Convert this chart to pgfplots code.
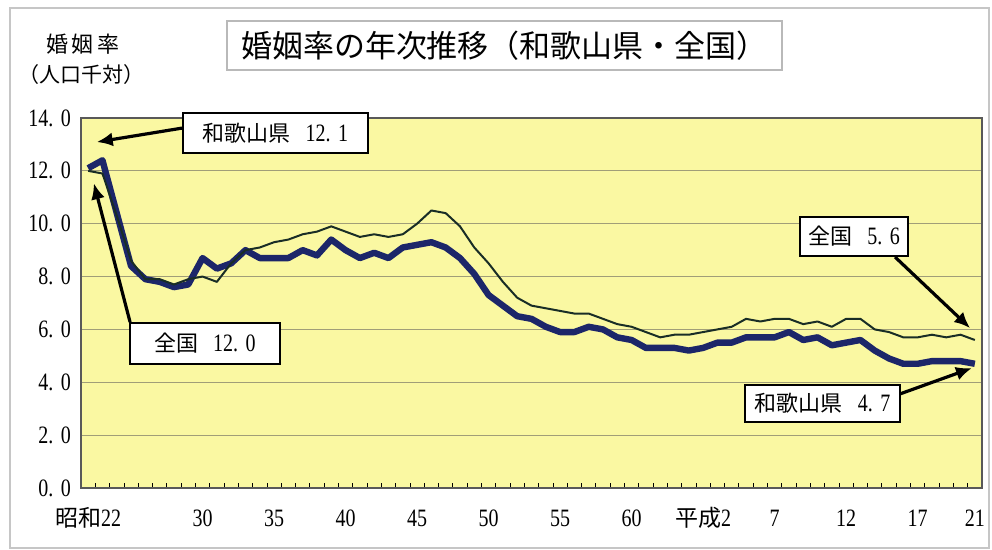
\documentclass[border=0pt]{standalone}
\usepackage{pgfplots}
\pgfplotsset{compat=1.18}
\usepackage{pgfplotstable}
\usepackage{fontspec}
\setmainfont[FakeStretch=0.8]{Liberation Serif}
\newfontfamily\jp{Noto Sans CJK JP}
\usetikzlibrary{arrows.meta}
\definecolor{plotyellow}{RGB}{250,248,162}
\definecolor{gridc}{RGB}{160,158,120}
\definecolor{wakac}{RGB}{28,38,105}
\definecolor{zenc}{RGB}{25,45,38}
\newcommand\dd[2]{#1.\hspace{0.3em}#2}

\pgfplotstableread{
year val
1947 12.0
1948 11.9
1949 10.3
1950 8.6
1951 7.9
1952 7.9
1953 7.7
1954 7.9
1955 8.0
1956 7.8
1957 8.5
1958 9.0
1959 9.1
1960 9.3
1961 9.4
1962 9.6
1963 9.7
1964 9.9
1965 9.7
1966 9.5
1967 9.6
1968 9.5
1969 9.6
1970 10.0
1971 10.5
1972 10.4
1973 9.9
1974 9.1
1975 8.5
1976 7.8
1977 7.2
1978 6.9
1979 6.8
1980 6.7
1981 6.6
1982 6.6
1983 6.4
1984 6.2
1985 6.1
1986 5.9
1987 5.7
1988 5.8
1989 5.8
1990 5.9
1991 6.0
1992 6.1
1993 6.4
1994 6.3
1995 6.4
1996 6.4
1997 6.2
1998 6.3
1999 6.1
2000 6.4
2001 6.4
2002 6.0
2003 5.9
2004 5.7
2005 5.7
2006 5.8
2007 5.7
2008 5.8
2009 5.6
}\zenkoku

\pgfplotstableread{
year val
1947 12.1
1948 12.4
1949 10.4
1950 8.4
1951 7.9
1952 7.8
1953 7.6
1954 7.7
1955 8.7
1956 8.3
1957 8.5
1958 9.0
1959 8.7
1960 8.7
1961 8.7
1962 9.0
1963 8.8
1964 9.4
1965 9.0
1966 8.7
1967 8.9
1968 8.7
1969 9.1
1970 9.2
1971 9.3
1972 9.1
1973 8.7
1974 8.1
1975 7.3
1976 6.9
1977 6.5
1978 6.4
1979 6.1
1980 5.9
1981 5.9
1982 6.1
1983 6.0
1984 5.7
1985 5.6
1986 5.3
1987 5.3
1988 5.3
1989 5.2
1990 5.3
1991 5.5
1992 5.5
1993 5.7
1994 5.7
1995 5.7
1996 5.9
1997 5.6
1998 5.7
1999 5.4
2000 5.5
2001 5.6
2002 5.2
2003 4.9
2004 4.7
2005 4.7
2006 4.8
2007 4.8
2008 4.8
2009 4.7
}\wakayama

\begin{document}
\begin{tikzpicture}
\useasboundingbox (-40.5pt,-31pt) rectangle (455.5pt,244pt);
\fill[white] (-40.5pt,-31pt) rectangle (455.5pt,244pt);
\draw[gray!45, line width=0.8pt] (-35.5pt,-30pt) rectangle (454pt,240pt);
% title
\draw[gray!55, line width=0.6pt, fill=white] (73pt,209pt) rectangle (350.5pt,233.5pt);
\node at (211.75pt,221.25pt) {\jp\fontsize{15.5}{17}\selectfont 婚姻率の年次推移（和歌山県・全国）};
% y label
\node at (1pt,222pt) {\jp\fontsize{11}{13}\selectfont 婚\,姻\,率};
\node at (0.5pt,206.5pt) {\jp\fontsize{10.5}{12}\selectfont （人口千対）};

\begin{axis}[
  at={(0pt,0pt)}, anchor=south west,
  width=450.5pt, height=185pt, scale only axis,
  xmin=-0.5, xmax=62.5, ymin=0, ymax=14,
  axis background/.style={fill=plotyellow},
  axis line style={draw=gray!70!black, line width=0.6pt},
  ytick={0,2,...,14},
  yticklabels={\dd{0}{0},\dd{2}{0},\dd{4}{0},\dd{6}{0},\dd{8}{0},\dd{10}{0},\dd{12}{0},\dd{14}{0}},
  ymajorgrids,
  major grid style={draw=gridc, line width=0.6pt},
  xtick={0,8,13,18,23,28,33,38,43,48,53,58,62},
  xticklabels={{\jp\fontsize{11.5}{13}\selectfont 昭和}22,30,35,40,45,50,55,60,{\jp\fontsize{11.5}{13}\selectfont 平成}2,7,12,17,21},
  minor xtick={-0.5,0.5,...,62.5},
  xtick pos=lower, ytick pos=left,
  tick align=inside,
  major tick length=0pt,
  minor tick length=2.5pt,
  every minor tick/.style={draw=black, line width=0.4pt},
  yticklabel style={font=\fontsize{12.5}{14}\selectfont, xshift=-1.5pt},
  xticklabel style={font=\fontsize{12.5}{14}\selectfont, anchor=base, yshift=-19.5pt},
  clip=false,
]
\addplot[wakac, line width=3.2pt, line join=round] table[x expr=\thisrow{year}-1947, y=val] {\wakayama};
\addplot[zenc, line width=1pt, line join=round] table[x expr=\thisrow{year}-1947, y=val] {\zenkoku};

% annotations
\draw[black, line width=1.6pt, -{Latex[length=8pt,width=7pt]}] (axis cs:6.6,13.62) -- (axis cs:0.6,13.09);
\node[draw=black, line width=1pt, fill=white, minimum width=92.5pt, minimum height=20pt, inner sep=1pt]
  at (axis cs:13.1,13.43) {\fontsize{12.5}{14}\selectfont{\jp\fontsize{11}{13}\selectfont 和歌山県}\hspace{0.6em}\dd{12}{1}};

\draw[black, line width=1.6pt, -{Latex[length=8pt,width=7pt]}] (axis cs:2.93,6.28) -- (axis cs:0.4,11.53);
\node[draw=black, line width=1pt, fill=white, minimum width=75pt, minimum height=20.5pt, inner sep=1pt]
  at (axis cs:8.17,5.47) {\fontsize{12.5}{14}\selectfont{\jp\fontsize{11}{13}\selectfont 全国}\hspace{0.6em}\dd{12}{0}};

\draw[black, line width=1.6pt, -{Latex[length=8pt,width=7pt]}] (axis cs:56.42,8.74) -- (axis cs:61.67,6.05);
\node[draw=black, line width=1pt, fill=white, minimum width=54pt, minimum height=19.5pt, inner sep=1pt]
  at (axis cs:53.56,9.52) {\fontsize{12.5}{14}\selectfont{\jp\fontsize{11}{13}\selectfont 全国}\hspace{0.6em}\dd{5}{6}};

\draw[black, line width=1.6pt, -{Latex[length=8pt,width=7pt]}] (axis cs:56.77,3.56) -- (axis cs:61.8,4.54);
\node[draw=black, line width=1pt, fill=white, minimum width=77.5pt, minimum height=18.5pt, inner sep=1pt]
  at (axis cs:51.35,3.2) {\fontsize{12.5}{14}\selectfont{\jp\fontsize{11}{13}\selectfont 和歌山県}\hspace{0.6em}\dd{4}{7}};
\end{axis}
\end{tikzpicture}
\end{document}
